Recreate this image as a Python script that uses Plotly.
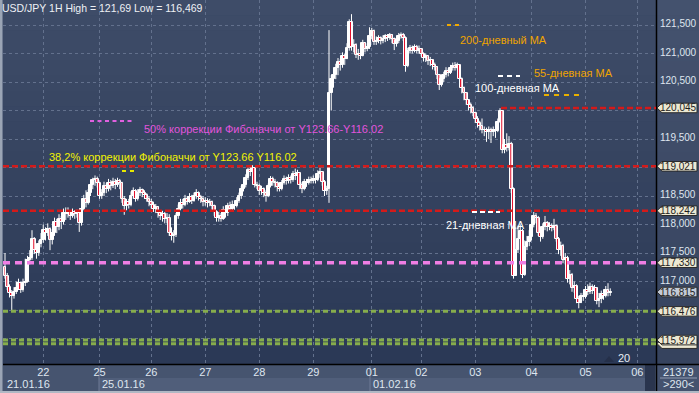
import plotly.graph_objects as go

# ---------------- data ----------------
day_labels = ["22", "25", "26", "27", "28", "29", "01", "02", "03", "04", "05", "06"]
day_start_index = [17, 42, 65, 89, 113, 137, 163, 185, 209, 234, 258, 281]
date_labels = ["21.01.16", "25.01.16", "01.02.16"]

first_open = 117.25
closes = [
    # 21
    117.10, 116.90, 116.80, 116.75, 116.82, 116.88, 116.98, 116.85, 116.97, 117.00, 117.38, 117.42, 117.75, 117.55, 117.50, 117.65, 117.72,
    # 22
    117.90, 117.85, 117.92, 117.72, 117.85, 118.05, 117.95, 118.10, 118.05, 118.20, 118.18, 118.22, 118.15, 118.22, 118.18, 118.20, 118.02, 118.28, 118.45, 118.38, 118.55, 118.70, 118.78, 118.80, 118.72,
    # 25
    118.50, 118.55, 118.68, 118.62, 118.72, 118.68, 118.75, 118.70, 118.76, 118.72, 118.45, 118.32, 118.40, 118.35, 118.50, 118.58, 118.45, 118.55, 118.60, 118.55, 118.52, 118.45, 118.40,
    # 26
    118.35, 118.28, 118.30, 118.20, 118.15, 118.18, 118.10, 118.12, 117.85, 117.80, 117.82, 118.15, 118.28, 118.38, 118.35, 118.45, 118.40, 118.48, 118.42, 118.50, 118.55, 118.48, 118.45, 118.40,
    # 27
    118.42, 118.38, 118.40, 118.32, 118.22, 118.12, 118.15, 118.10, 118.25, 118.20, 118.32, 118.28, 118.35, 118.32, 118.42, 118.50, 118.62, 118.70, 118.82, 118.95, 118.92, 119.00, 118.70, 118.68,
    # 28
    118.58, 118.62, 118.55, 118.50, 118.68, 118.80, 118.75, 118.72, 118.65, 118.62, 118.72, 118.80, 118.76, 118.82, 118.78, 118.88, 118.85, 118.90, 118.70, 118.62, 118.75, 118.72, 118.78, 118.76,
    # 29
    118.80, 118.78, 118.88, 118.92, 118.75, 118.58, 118.62, 120.30, 120.55, 120.62, 120.75, 120.85, 120.80, 120.95, 120.90, 121.10, 121.55, 121.12, 121.15, 120.98, 121.00, 120.96, 121.18, 121.08, 121.12, 121.30,
    # 01
    121.40, 121.20, 121.22, 121.28, 121.22, 121.26, 121.30, 121.28, 121.32, 121.25, 121.17, 121.22, 121.30, 121.33, 121.28, 120.78, 121.05, 121.10, 121.05, 121.12, 121.05, 121.08,
    # 02
    121.00, 120.92, 120.95, 120.86, 120.88, 120.80, 120.76, 120.62, 120.45, 120.55, 120.62, 120.70, 120.66, 120.74, 120.78, 120.75, 120.80, 120.55, 120.40, 120.30, 120.18, 120.10, 120.05, 119.95,
    # 03
    119.85, 119.78, 119.72, 119.65, 119.66, 119.62, 119.66, 119.62, 119.66, 119.64, 119.80, 120.00, 119.30, 119.40, 119.35, 119.42, 118.62, 117.10, 117.55, 117.75, 117.88, 117.12, 117.60, 117.70, 117.78,
    # 04
    118.00, 118.15, 118.12, 117.85, 117.78, 117.95, 118.02, 117.95, 117.98, 117.94, 117.98, 117.75, 117.55, 117.62, 117.38, 117.42, 117.05, 117.12, 116.88, 116.92, 116.70, 116.62, 116.75, 116.72,
    # 05
    116.85, 116.82, 116.90, 116.84, 116.88, 116.66, 116.70, 116.78, 116.74, 116.85, 116.80, 116.815,
]
highs = [
    117.50, 117.15, 116.95, 116.85, 116.90, 117.00, 117.05, 117.00, 117.05, 117.40, 117.45, 117.55, 117.90, 117.78, 117.62, 117.72, 117.85,
    118.00, 117.95, 118.02, 117.95, 117.92, 118.12, 118.10, 118.18, 118.15, 118.28, 118.30, 118.30, 118.25, 118.28, 118.25, 118.26, 118.25, 118.35, 118.52, 118.60, 118.62, 118.78, 118.82, 118.86, 118.84,
    118.75, 118.62, 118.75, 118.72, 118.80, 118.78, 118.82, 118.80, 118.82, 118.80, 118.75, 118.50, 118.45, 118.45, 118.58, 118.65, 118.62, 118.62, 118.66, 118.63, 118.60, 118.55, 118.50,
    118.45, 118.40, 118.36, 118.32, 118.25, 118.24, 118.22, 118.20, 118.18, 117.95, 117.90, 118.20, 118.35, 118.45, 118.45, 118.52, 118.50, 118.55, 118.52, 118.56, 118.62, 118.58, 118.52, 118.50,
    118.48, 118.46, 118.45, 118.42, 118.35, 118.25, 118.22, 118.20, 118.32, 118.30, 118.38, 118.40, 118.42, 118.40, 118.48, 118.56, 118.68, 118.78, 118.88, 119.00, 119.04, 119.04, 119.00, 118.75,
    118.72, 118.68, 118.65, 118.60, 118.72, 118.85, 118.84, 118.80, 118.76, 118.74, 118.78, 118.86, 118.84, 118.88, 118.86, 118.94, 118.98, 118.96, 118.88, 118.74, 118.80, 118.80, 118.84, 118.84,
    118.86, 118.85, 118.95, 119.00, 118.92, 118.78, 118.68, 121.41, 120.62, 120.72, 120.82, 120.92, 120.90, 121.02, 121.00, 121.18, 121.60, 121.69, 121.25, 121.18, 121.08, 121.05, 121.24, 121.20, 121.18, 121.46,
    121.45, 121.42, 121.30, 121.32, 121.30, 121.32, 121.34, 121.34, 121.36, 121.34, 121.28, 121.28, 121.36, 121.37, 121.36, 121.30, 121.10, 121.15, 121.14, 121.16, 121.15, 121.14,
    121.08, 121.02, 121.00, 120.96, 120.94, 120.90, 120.84, 120.78, 120.64, 120.60, 120.68, 120.76, 120.74, 120.80, 120.84, 120.85, 120.84, 120.78, 120.58, 120.42, 120.32, 120.20, 120.14, 120.08,
    119.98, 119.90, 119.82, 119.86, 119.72, 119.70, 119.72, 119.70, 119.72, 119.70, 119.86, 120.04, 120.00, 119.50, 119.60, 119.55, 119.45, 118.65, 117.95, 117.98, 118.00, 117.92, 117.72, 117.80, 117.90,
    118.08, 118.22, 118.20, 118.15, 117.90, 118.02, 118.15, 118.06, 118.04, 118.02, 118.10, 118.00, 117.78, 117.70, 117.66, 117.50, 117.45, 117.20, 117.15, 117.00, 116.95, 116.75, 116.80, 116.80,
    116.92, 116.95, 116.98, 116.95, 116.94, 116.90, 116.80, 116.84, 116.85, 116.92, 116.97, 116.88,
]
lows = [
    117.05, 116.85, 116.72, 116.47, 116.70, 116.78, 116.85, 116.80, 116.82, 116.92, 116.98, 117.30, 117.38, 117.48, 117.40, 117.45, 117.60,
    117.68, 117.72, 117.80, 117.55, 117.65, 117.80, 117.85, 117.90, 117.92, 118.00, 118.08, 118.12, 118.08, 118.12, 118.10, 118.12, 117.87, 117.98, 118.25, 118.30, 118.35, 118.50, 118.62, 118.68, 118.65,
    118.45, 118.45, 118.50, 118.55, 118.58, 118.60, 118.64, 118.62, 118.66, 118.62, 118.38, 118.17, 118.25, 118.28, 118.32, 118.45, 118.40, 118.42, 118.50, 118.48, 118.45, 118.40, 118.32,
    118.28, 118.22, 118.20, 118.12, 118.08, 118.05, 118.02, 118.02, 117.80, 117.72, 117.68, 117.78, 118.10, 118.25, 118.28, 118.32, 118.35, 118.38, 118.36, 118.40, 118.45, 118.42, 118.38, 118.32,
    118.33, 118.30, 118.32, 118.26, 118.15, 118.05, 118.05, 118.05, 118.08, 118.12, 118.15, 118.22, 118.25, 118.26, 118.30, 118.38, 118.45, 118.58, 118.65, 118.78, 118.85, 118.88, 118.65, 118.62,
    118.52, 118.52, 118.48, 118.40, 118.48, 118.65, 118.68, 118.65, 118.58, 118.58, 118.60, 118.70, 118.70, 118.72, 118.72, 118.75, 118.78, 118.80, 118.62, 118.55, 118.60, 118.66, 118.70, 118.72,
    118.72, 118.72, 118.76, 118.82, 118.68, 118.50, 118.52, 118.38, 120.00, 120.40, 120.55, 120.62, 120.70, 120.75, 120.80, 120.90, 121.05, 121.05, 121.02, 120.92, 120.89, 120.90, 120.95, 121.02, 121.04, 121.08,
    121.25, 121.15, 121.15, 121.18, 121.16, 121.18, 121.20, 121.22, 121.24, 121.18, 121.06, 121.12, 121.18, 121.26, 121.22, 120.68, 120.76, 121.00, 121.00, 121.02, 121.00, 121.00,
    120.95, 120.86, 120.85, 120.80, 120.78, 120.72, 120.70, 120.55, 120.36, 120.42, 120.50, 120.58, 120.60, 120.64, 120.70, 120.70, 120.72, 120.45, 120.30, 120.18, 120.10, 120.00, 119.95, 119.90,
    119.78, 119.70, 119.65, 119.60, 119.55, 119.45, 119.50, 119.43, 119.55, 119.52, 119.62, 119.78, 119.25, 119.25, 119.28, 119.30, 118.55, 117.05, 117.45, 117.50, 117.55, 117.06, 117.10, 117.55, 117.62,
    117.72, 117.95, 118.02, 117.80, 117.70, 117.75, 117.90, 117.88, 117.90, 117.88, 117.90, 117.70, 117.48, 117.45, 117.32, 117.30, 116.98, 116.95, 116.82, 116.80, 116.62, 116.53, 116.62, 116.66,
    116.70, 116.76, 116.78, 116.78, 116.80, 116.60, 116.55, 116.62, 116.68, 116.72, 116.74, 116.75,
]

# horizontal levels
red_levels = [120.045, 119.021, 118.242]
pink_level = 117.330
green_levels = [116.476, 115.972, 115.910]
tag_levels = [120.045, 119.021, 118.242, 117.330, 116.476, 115.910, 115.972]
tag_texts = ["120,045", "119,021", "118,242", "117,330", "116,476", "", "115,972"]
current_price = 116.815
current_text = "116,815"
ytick_vals = [116.0, 116.5, 117.0, 117.5, 118.0, 118.5, 119.0, 119.5, 120.0, 120.5, 121.0, 121.5]
ytick_text = ["", "", "117,000", "117,500", "118,000", "118,500", "", "119,500", "", "120,500", "121,000", "121,500"]

title_text = "USD/JPY 1H High = 121,69 Low = 116,469"

# ---------------- helpers (layout geometry) ----------------
W, H = 699, 393
ML, MR, MT, MB = 3, 43, 0, 29
PW = W - ML - MR
PH = H - MT - MB
P_TOP = 121.5 + 25 / 57.0
P_BOT = 121.5 - (364 - 25) / 57.0
X_LO = (3 - 5) / 2.25
X_HI = (656 - 5) / 2.25
FONT = "Liberation Sans"


def px2x(px):
    return (px - ML) / PW


def py2y(py):
    return (MT + PH - py) / PH


def price_py(p):
    return 25 + (121.5 - p) * 57


n = len(closes)
idx = list(range(n))
opens = [first_open] + closes[:-1]
hi_plot = [max(h, o, c) for h, o, c in zip(highs, opens, closes)]
lo_plot = [min(l, o, c) for l, o, c in zip(lows, opens, closes)]

# wicks
wx, wy = [], []
for i, h, l in zip(idx, hi_plot, lo_plot):
    wx += [i, i, None]
    wy += [l, h, None]

body_base = [min(o, c) for o, c in zip(opens, closes)]
body_len = [abs(c - o) for o, c in zip(opens, closes)]
body_col = ["#ffffff" if c >= o else "#e3102c" for o, c in zip(opens, closes)]

fig = go.Figure()
fig.add_trace(go.Scatter(x=wx, y=wy, mode="lines", line=dict(color="#ffffff", width=1),
                         hoverinfo="skip", showlegend=False))
fig.add_trace(go.Bar(x=idx, y=body_len, base=body_base, width=1.15,
                     marker=dict(color=body_col, line=dict(color="#ffffff", width=1)),
                     hoverinfo="skip", showlegend=False))

shapes = []
# plot background gradient
top_c = (62, 76, 104)
bot_c = (43, 57, 86)
NB = 24
for k in range(NB):
    t = k / (NB - 1)
    c = tuple(int(round(top_c[j] + (bot_c[j] - top_c[j]) * t)) for j in range(3))
    y0 = 364 * k / NB
    y1 = 364 * (k + 1) / NB + 0.5
    shapes.append(dict(type="rect", xref="paper", yref="paper", x0=0, x1=1,
                       y0=py2y(y1), y1=py2y(y0), fillcolor="rgb(%d,%d,%d)" % c,
                       line=dict(width=0), layer="below"))
# right panel gradient
rt = (68, 82, 110)
rb = (54, 67, 94)
for k in range(NB):
    t = k / (NB - 1)
    c = tuple(int(round(rt[j] + (rb[j] - rt[j]) * t)) for j in range(3))
    y0 = 364 * k / NB
    y1 = 364 * (k + 1) / NB + 0.5
    shapes.append(dict(type="rect", xref="paper", yref="paper", x0=px2x(656), x1=px2x(700),
                       y0=py2y(y1), y1=py2y(y0), fillcolor="rgb(%d,%d,%d)" % c,
                       line=dict(width=0), layer="below"))
# bottom panel
shapes.append(dict(type="rect", xref="paper", yref="paper", x0=px2x(0), x1=px2x(656),
                   y0=py2y(393), y1=py2y(364), fillcolor="#46546f", line=dict(width=0), layer="below"))
shapes.append(dict(type="rect", xref="paper", yref="paper", x0=px2x(99), x1=px2x(645),
                   y0=py2y(391), y1=py2y(378), fillcolor="#505e7a", line=dict(width=0), layer="below"))
shapes.append(dict(type="rect", xref="paper", yref="paper", x0=px2x(656), x1=px2x(700),
                   y0=py2y(393), y1=py2y(364), fillcolor="#44526e", line=dict(width=0), layer="below"))
for sx in (99, 370):
    shapes.append(dict(type="line", xref="paper", yref="paper", x0=px2x(sx), x1=px2x(sx),
                       y0=py2y(391), y1=py2y(366), line=dict(color="#6e7b96", width=1), layer="below"))
shapes.append(dict(type="rect", xref="paper", yref="paper", x0=px2x(645), x1=px2x(655),
                   y0=py2y(391), y1=py2y(365), fillcolor="#2a354e", line=dict(width=0), layer="below"))
shapes.append(dict(type="line", xref="paper", yref="paper", x0=px2x(660), x1=px2x(697),
                   y0=py2y(378), y1=py2y(378), line=dict(color="#8f9ab0", width=1), layer="above"))
# black separators
shapes.append(dict(type="line", xref="paper", yref="paper", x0=px2x(656.5), x1=px2x(656.5),
                   y0=py2y(391), y1=py2y(0), line=dict(color="#000000", width=1.5), layer="above"))
shapes.append(dict(type="line", xref="paper", yref="paper", x0=px2x(3), x1=px2x(699),
                   y0=py2y(364.5), y1=py2y(364.5), line=dict(color="#000000", width=1.5), layer="above"))
# frame
shapes.append(dict(type="rect", xref="paper", yref="paper", x0=px2x(-1), x1=px2x(2.5),
                   y0=py2y(394), y1=py2y(0), fillcolor="#9ba5b5", line=dict(width=0), layer="above"))
shapes.append(dict(type="rect", xref="paper", yref="paper", x0=px2x(-1), x1=px2x(700),
                   y0=py2y(394), y1=py2y(391), fillcolor="#b0b8c4", line=dict(width=0), layer="above"))

# level lines
for i, lv in enumerate(red_levels):
    shapes.append(dict(type="line", xref="paper", yref="y", x0=px2x(501) if i == 0 else 0, x1=1,
                       y0=lv, y1=lv, line=dict(color="#d41a1a", width=2.5, dash="6px,3px"), layer="above"))
shapes.append(dict(type="line", xref="paper", yref="y", x0=0, x1=1, y0=pink_level, y1=pink_level,
                   line=dict(color="#f07ee4", width=3.5, dash="7px,5px"), layer="above"))
for lv in green_levels:
    shapes.append(dict(type="line", xref="paper", yref="y", x0=0, x1=1, y0=lv, y1=lv,
                       line=dict(color="#86ad4c", width=3, dash="5px,3px"), layer="above"))


# legend-like short dashes
def dash_seg(x0, x1, y, color, dash):
    shapes.append(dict(type="line", xref="paper", yref="paper", x0=px2x(x0), x1=px2x(x1),
                       y0=py2y(y), y1=py2y(y), line=dict(color=color, width=2, dash=dash), layer="above"))


dash_seg(447, 459, 25, "#f0a800", "4px,4px")
dash_seg(498, 520, 76, "#ffffff", "5px,4px")
dash_seg(544, 580, 95, "#e8b000", "5px,5px")
dash_seg(90, 135, 121, "#e060e0", "4px,3.5px")
dash_seg(122, 134, 171, "#e8e800", "4px,4px")
dash_seg(472, 500, 212, "#ffffff", "5px,3px")

# price tags
TH = 4.8


def tag(p, fill):
    yc = price_py(p)
    pts = [(657, yc), (662, yc - TH), (697, yc - TH), (697, yc + TH), (662, yc + TH)]
    path = "M " + " L ".join("%f,%f" % (px2x(a), py2y(b)) for a, b in pts) + " Z"
    shapes.append(dict(type="path", xref="paper", yref="paper", path=path, fillcolor=fill,
                       line=dict(color="#2b2b2b", width=1), layer="above"))


for p in tag_levels:
    tag(p, "#ece8d2")
tag(current_price, "#c3cad6")

# small triangle near "20"
tri = [(604, 362), (609, 356), (614, 362)]
shapes.append(dict(type="path", xref="paper", yref="paper",
                   path="M " + " L ".join("%f,%f" % (px2x(a), py2y(b)) for a, b in tri) + " Z",
                   fillcolor="#253049", line=dict(width=0), layer="above"))

annotations = []


def text(x, y, s, color, size=11, anchor="left"):
    annotations.append(dict(xref="paper", yref="paper", x=px2x(x), y=py2y(y), text=s, showarrow=False,
                            xanchor=anchor, yanchor="middle", borderpad=0,
                            font=dict(family=FONT, size=size, color=color)))


text(1, 8, title_text, "#eef1f5", 10.5)
text(459, 40, "200-дневный MA", "#f0a400", 11)
text(533, 73, "55-дневная МА", "#f0a400", 11)
text(474, 88, "100-дневная МА", "#ffffff", 11)
text(143, 129, "50% коррекции Фибоначчи от Y123.66-Y116.02", "#e254dc", 11)
text(48, 157, "38,2% коррекции Фибоначчи от Y123.66 Y116.02", "#f2f200", 11)
text(445, 225, "21-дневная МА", "#ffffff", 11)
text(624, 358, "20", "#e8edf3", 11, "center")

for lab, xl in zip(date_labels, [6, 101, 372]):
    text(xl, 384, lab, "#dfe6ef", 11)
text(678, 372, "21379", "#dfe6ef", 11, "center")
text(678, 384, ">290<", "#dfe6ef", 11, "center")

# y-axis labels
for v, s in zip(ytick_vals, ytick_text):
    if s:
        text(659, price_py(v) - 1.5, s, "#dfe6ef", 10)

for p, s in zip(tag_levels, tag_texts):
    if s:
        text(678, price_py(p), s, "#1e1e1e", 10, "center")
text(678, price_py(current_price) + 0.5, current_text, "#1e1e1e", 10, "center")

fig.update_layout(
    width=W, height=H, margin=dict(l=ML, r=MR, t=MT, b=MB, pad=0),
    paper_bgcolor="#414f6c", plot_bgcolor="#34445f",
    bargap=0,
    shapes=shapes, annotations=annotations, showlegend=False,
    xaxis=dict(range=[X_LO, X_HI], tickmode="array", tickvals=day_start_index, ticktext=day_labels,
               showgrid=True, gridcolor="#63718d", griddash="3px,3px", gridwidth=1, ticks="",
               tickfont=dict(family=FONT, size=11, color="#dfe6ef"),
               zeroline=False, showline=False, fixedrange=True),
    yaxis=dict(range=[P_BOT, P_TOP], side="right", tickmode="array", tickvals=ytick_vals,
               showticklabels=False,
               showgrid=True, gridcolor="#63718d", griddash="3px,3px", gridwidth=1, ticks="",
               zeroline=False, showline=False, fixedrange=True),
)

fig.write_html("out.html", config={"displayModeBar": False})
